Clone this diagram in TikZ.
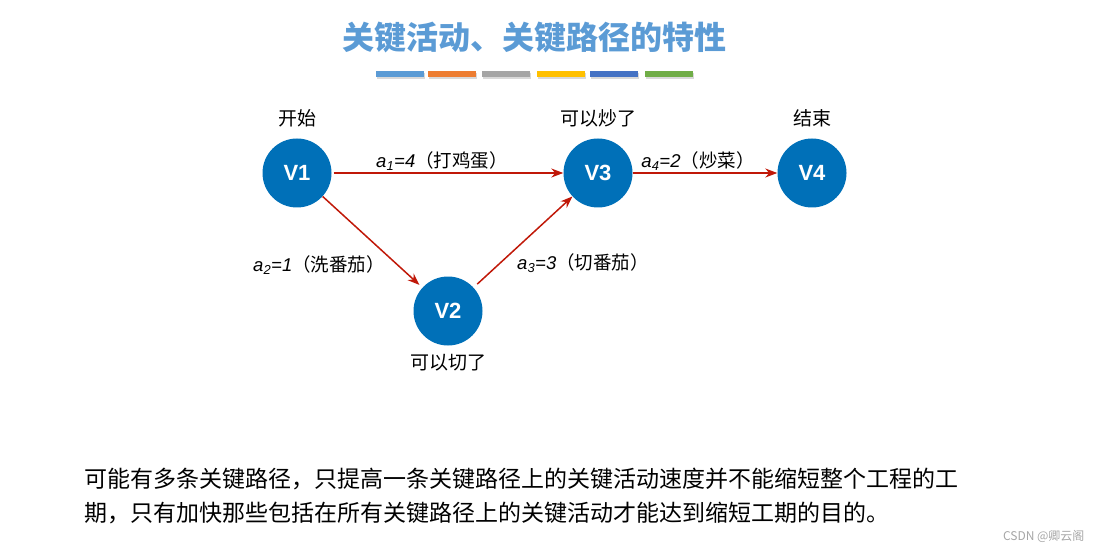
\documentclass[tikz,border=0pt]{standalone}
\usepackage{fontspec}
\setmainfont{Liberation Sans}
\newfontfamily\cjk{Noto Sans CJK SC}
\usetikzlibrary{arrows.meta}
\definecolor{nodeblue}{RGB}{0,112,184}
\definecolor{edgered}{RGB}{192,24,8}
\definecolor{titleblue}{RGB}{91,155,213}
\definecolor{barorange}{RGB}{237,125,49}
\definecolor{bargray}{RGB}{165,165,165}
\definecolor{baryellow}{RGB}{255,192,0}
\definecolor{barblue}{RGB}{68,114,196}
\definecolor{bargreen}{RGB}{112,173,71}
\newcommand{\act}[3]{\textit{a}\textsubscript{\textit{#1}}\textit{=#2}{\cjk（#3）}}

\begin{document}
\begin{tikzpicture}[x=1pt,y=-1pt,
    vertex/.style={circle,fill=nodeblue,text=white,minimum size=69pt,inner sep=0pt,font=\fontsize{22}{24}\selectfont\bfseries},
    tag/.style={font=\cjk\fontsize{19}{22}\selectfont},
    work/.style={draw=edgered,line width=1.5pt,-{Stealth[length=12pt,width=9pt]}},
    lbl/.style={font=\fontsize{18.5}{22}\selectfont}]
          \useasboundingbox (0,0) rectangle (1094,553);
          % title and colour bars
          \node[font=\cjk\fontsize{32}{36}\selectfont\bfseries,text=titleblue] (title) at (534,38) {关键活动、关键路径的特性};
          \foreach \x/\c in {376/titleblue,428/barorange,482/bargray,537/baryellow,590/barblue,645/bargreen}
            {\fill[black!15] (\x+1,73) rectangle ++(48,6);
             \fill[\c] (\x,71) rectangle ++(48,6);}
          % vertices
          \node[vertex] (v1) at (297,173) {V1};
          \node[vertex] (v2) at (448,311) {V2};
          \node[vertex] (v3) at (598,173) {V3};
          \node[vertex] (v4) at (812,173) {V4};
          \node[tag] (t1) at (297,118) {开始};
          \node[tag] (t2) at (448,363) {可以切了};
          \node[tag] (t3) at (598,118) {可以炒了};
          \node[tag] (t4) at (812,118) {结束};
          % activities
          \draw[work,shorten <=2pt] (v1) -- (v3);
          \draw[work,shorten >=4pt] (v1) -- (v2);
          \draw[work,shorten <=5pt] (v2) -- (v3);
          \draw[work] (v3) -- (v4);
          \node[lbl] (l1) at (442,161) {\act{1}{4}{打鸡蛋}};
          \node[lbl] (l2) at (319,265) {\act{2}{1}{洗番茄}};
          \node[lbl] (l3) at (583,263) {\act{3}{3}{切番茄}};
          \node[lbl] (l4) at (698,161) {\act{4}{2}{炒菜}};
          % note
          \node[font=\cjk\fontsize{23}{34}\selectfont,align=left,anchor=north west,inner sep=0pt] (note) at (84,468)
            {可能有多条关键路径，只提高一条关键路径上的关键活动速度并不能缩短整个工程的工\\期，只有加快那些包括在所有关键路径上的关键活动才能达到缩短工期的目的。};
          \node[font=\cjk\fontsize{12}{14}\selectfont,text=gray!70,anchor=east] (mark) at (1088,536) {CSDN @卿云阁};
        \end{tikzpicture}
\end{document}
